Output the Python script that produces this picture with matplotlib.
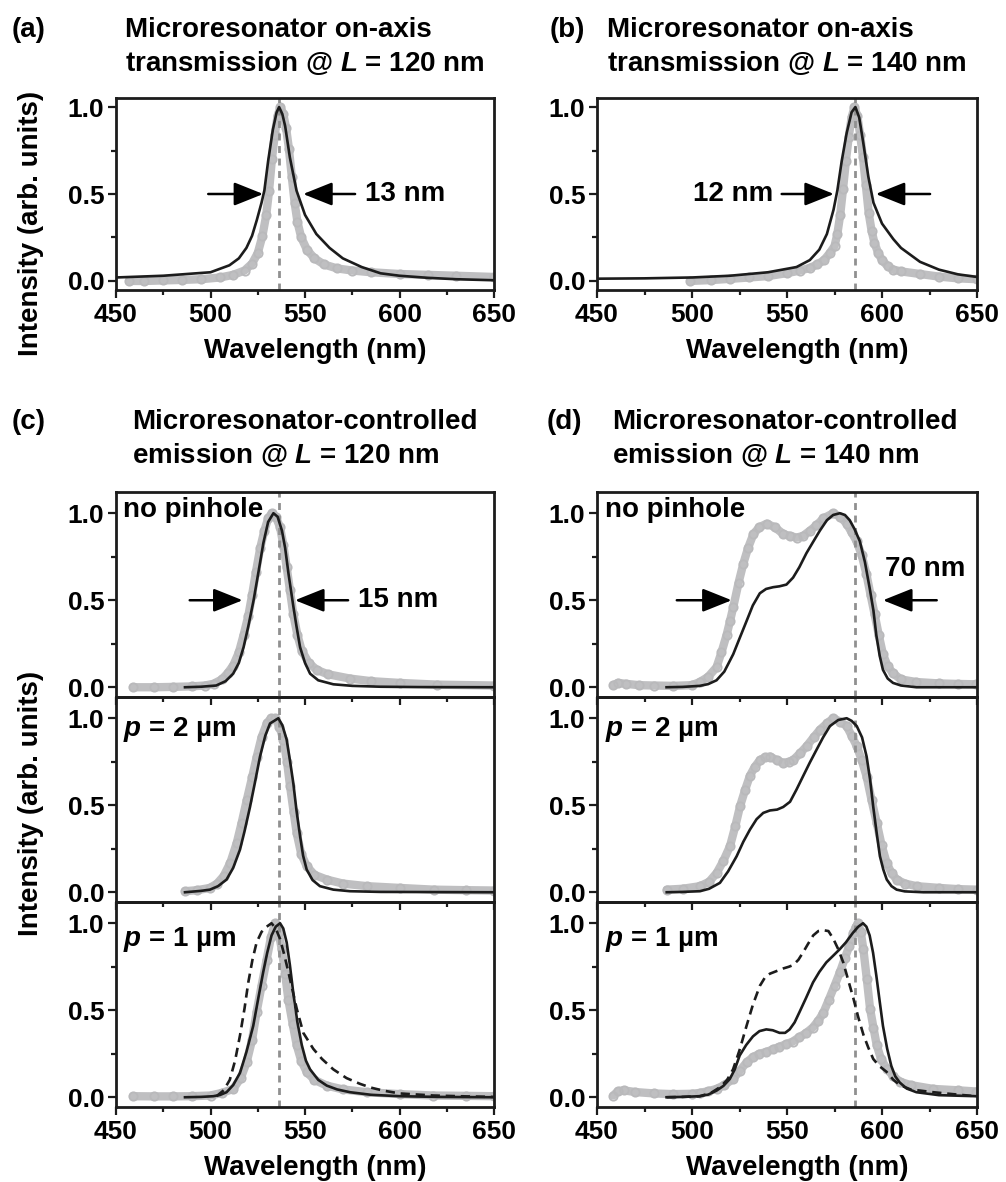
import matplotlib
matplotlib.use('Agg')
import matplotlib.pyplot as plt
from matplotlib.ticker import MultipleLocator

plt.rcParams['font.family'] = ['Liberation Sans', 'DejaVu Sans']
plt.rcParams['font.weight'] = 'bold'
plt.rcParams['mathtext.fontset'] = 'custom'
plt.rcParams['mathtext.it'] = 'Liberation Sans:italic:bold'
plt.rcParams['mathtext.rm'] = 'Liberation Sans:bold'
plt.rcParams['mathtext.bf'] = 'Liberation Sans:bold'

# ---------------- data ----------------
x_ticks = [450, 500, 550, 600, 650]
y_ticks = [0.0, 0.5, 1.0]
center_120 = 536
center_140 = 586

# (a) transmission, L = 120 nm
wl_a_sim = [450, 475, 500, 510, 515, 519, 522, 524.5, 527, 528.5, 530.5, 533, 535, 536.3, 538, 539.5,
            542, 545.5, 550, 556, 563, 570, 580, 590, 600, 615, 630, 650]
int_a_sim = [0.02, 0.03, 0.05, 0.09, 0.13, 0.19, 0.26, 0.35, 0.45, 0.52, 0.69, 0.87, 0.97, 1.0, 0.96, 0.89,
             0.71, 0.52, 0.38, 0.27, 0.19, 0.13, 0.08, 0.044, 0.03, 0.018, 0.01, 0.004]
wl_a_meas = [457, 465, 475, 485, 495, 505, 512, 518, 522, 525, 527.5, 529.5, 531, 532.5, 534, 535.5, 537,
             538.5, 540, 541.5, 543, 544.5, 546, 548, 551, 555, 560, 567, 575, 585, 600, 615, 630, 650]
int_a_meas = [0.0, 0.0, 0.003, 0.006, 0.01, 0.02, 0.035, 0.06, 0.1, 0.16, 0.26, 0.38, 0.52, 0.7, 0.84, 0.95, 1.0,
              0.96, 0.88, 0.76, 0.6, 0.45, 0.34, 0.25, 0.18, 0.13, 0.095, 0.072, 0.06, 0.05, 0.04, 0.035, 0.03, 0.023]

# (b) transmission, L = 140 nm
wl_b_sim = [450, 475, 500, 520, 540, 555, 562, 567, 571, 574.5, 576.5, 578.8, 581.4, 584, 586, 588, 590.2,
            592.8, 595.5, 600, 606, 610, 620, 630, 640, 650]
int_b_sim = [0.013, 0.015, 0.02, 0.03, 0.05, 0.08, 0.12, 0.18, 0.27, 0.41, 0.52, 0.69, 0.85, 0.97, 1.0, 0.94, 0.79,
             0.60, 0.45, 0.33, 0.24, 0.19, 0.11, 0.065, 0.038, 0.023]
wl_b_meas = [499, 510, 520, 530, 540, 550, 557, 562, 566, 569.5, 572.5, 575, 576.5, 578, 579.5, 581, 582.5, 584,
             585.5, 587, 588.5, 590, 591.5, 593, 594.5, 596, 598, 600, 603, 606, 610, 620, 630, 640, 650]
int_b_meas = [0.0, 0.005, 0.012, 0.02, 0.028, 0.045, 0.06, 0.075, 0.095, 0.12, 0.16, 0.2, 0.27, 0.38, 0.53, 0.69,
              0.83, 0.94, 1.0, 0.95, 0.84, 0.71, 0.55, 0.39, 0.29, 0.22, 0.16, 0.12, 0.085, 0.065, 0.055, 0.04,
              0.025, 0.015, 0.01]

# (c) emission, L = 120 nm : no pinhole
wl_c1_sim = [486.5, 495, 503, 508, 512, 515, 517.5, 520, 522.8, 525.5, 528, 530.5, 533.3, 535.5, 537.8, 539.5,
             541.3, 543.9, 545.5, 547.4, 550, 552.7, 557, 565, 575, 590, 610, 650]
int_c1_sim = [0.0, 0.003, 0.01, 0.035, 0.078, 0.14, 0.23, 0.35, 0.50, 0.67, 0.83, 0.95, 1.0, 0.98, 0.9, 0.8,
              0.65, 0.46, 0.35, 0.23, 0.14, 0.078, 0.04, 0.017, 0.008, 0.003, 0.001, 0.0]
wl_c1_meas = [459, 470, 480, 490, 497, 501.6, 506, 509, 512, 515, 517.5, 520, 522, 524, 526.3, 528.5, 530.5,
              532.4, 534.5, 536.8, 538.5, 540.3, 542, 543.8, 546, 548.3, 552, 556.2, 562, 573.8, 585, 600, 620, 650]
int_c1_meas = [0.0, 0.0, 0.002, 0.005, 0.01, 0.02, 0.045, 0.08, 0.125, 0.2, 0.3, 0.41, 0.53, 0.66, 0.8, 0.9, 0.97,
               1.0, 0.98, 0.92, 0.82, 0.69, 0.56, 0.42, 0.3, 0.21, 0.14, 0.10, 0.075, 0.05, 0.035, 0.025, 0.015, 0.01]

# (c) p = 2 um
wl_c2_sim = [486.5, 495, 499.7, 504, 508.5, 512, 515.6, 518, 520.9, 523.5, 526.2, 529, 531.5, 535.9, 538, 540.3,
             542, 543.8, 545.5, 547.4, 549, 550.9, 554, 557.9, 565, 573.8, 590, 650]
int_c2_sim = [0.0, 0.008, 0.015, 0.035, 0.073, 0.14, 0.245, 0.35, 0.49, 0.63, 0.78, 0.9, 0.97, 1.0, 0.96, 0.877,
              0.76, 0.628, 0.47, 0.322, 0.21, 0.13, 0.07, 0.035, 0.015, 0.006, 0.002, 0.0]
wl_c2_meas = [486.5, 493, 499.7, 503.5, 506.9, 510.5, 513.9, 516.5, 519.2, 522, 524.5, 527, 529.8, 532, 534.2,
              536.5, 538.6, 540.5, 542.1, 544, 545.6, 548, 550.9, 555, 561.5, 570, 582.7, 600, 618, 635, 650]
int_c2_meas = [0.006, 0.012, 0.025, 0.05, 0.092, 0.17, 0.284, 0.4, 0.53, 0.66, 0.78, 0.89, 0.97, 1.0, 1.0,
               0.95, 0.877, 0.75, 0.609, 0.46, 0.34, 0.22, 0.15, 0.1, 0.073, 0.05, 0.035, 0.025, 0.015, 0.012, 0.01]

# (c) p = 1 um
wl_c3_sim = [486.5, 495, 501.5, 505, 508.5, 512, 515.6, 519, 522.6, 525.3, 527.9, 530, 532.3, 534.5, 536.8,
             538.5, 540.3, 542, 543.8, 546, 548.3, 550.5, 552.7, 557, 561.5, 567, 573.8, 585, 600.3, 620, 650]
int_c3_sim = [0.0, 0.002, 0.006, 0.013, 0.029, 0.07, 0.14, 0.26, 0.41, 0.57, 0.72, 0.83, 0.93, 0.98, 1.0,
              0.97, 0.89, 0.76, 0.60, 0.43, 0.30, 0.21, 0.16, 0.1, 0.067, 0.045, 0.029, 0.014, 0.006, 0.002, 0.0]
wl_c3_dash = [503.2, 507, 510.2, 513, 515.6, 518, 520, 522.2, 524.4, 527, 529.7, 532.3, 534.5, 536.8, 539,
              541.2, 543.5, 545.6, 549.1, 554.4, 559, 565, 572, 579.1, 585, 591.5, 600, 617.9, 635, 650]
int_c3_dash = [0.006, 0.04, 0.1, 0.21, 0.355, 0.51, 0.66, 0.79, 0.89, 0.95, 0.98, 1.0, 0.97, 0.91, 0.82,
               0.72, 0.61, 0.51, 0.37, 0.278, 0.22, 0.16, 0.11, 0.077, 0.055, 0.038, 0.022, 0.01, 0.005, 0.002]
wl_c3_meas = [459, 470, 480, 490, 500, 506, 512, 516, 519.1, 522, 524.4, 527, 529.7, 532, 534.2, 536, 537.7,
              539.5, 541.2, 543.5, 545.6, 548, 550.9, 555, 561.5, 570, 582.7, 600, 617.9, 635, 650]
int_c3_meas = [0.006, 0.005, 0.005, 0.006, 0.01, 0.025, 0.048, 0.11, 0.2, 0.33, 0.49, 0.64, 0.79, 0.92, 1.0,
               0.95, 0.85, 0.71, 0.56, 0.42, 0.30, 0.21, 0.145, 0.1, 0.067, 0.045, 0.029, 0.018, 0.01, 0.008, 0.006]

# (d) emission, L = 140 nm : no pinhole
wl_d1_sim = [486.6, 495, 504.1, 508.5, 512.9, 517, 521.7, 525, 528.7, 532, 535.7, 539, 542.7, 546, 549.7, 553.2,
             556.5, 560.2, 564, 567.3, 571, 574.3, 577.8, 580.5, 583, 585.5, 588.3, 591, 593.5, 595.5, 597, 598.8,
             600.5, 603, 605.8, 610, 618.1, 650]
int_d1_sim = [0.0, 0.002, 0.008, 0.018, 0.04, 0.09, 0.19, 0.28, 0.38, 0.47, 0.54, 0.565, 0.575, 0.58, 0.59, 0.63,
              0.69, 0.77, 0.84, 0.90, 0.96, 0.99, 1.0, 0.99, 0.96, 0.91, 0.84, 0.72, 0.57, 0.44, 0.30, 0.18,
              0.10, 0.05, 0.025, 0.01, 0.0, 0.0]
wl_d1_meas = [458.6, 461, 465, 472, 480, 490, 500, 504.1, 508.5, 512.9, 515.5, 518.2, 520, 521.7, 524.5, 527,
              529.5, 532.3, 535.5, 539.3, 543.5, 548.1, 551.5, 555.1, 558.5, 562.1, 565.5, 569.1, 574.3, 578,
              581.4, 584, 586.6, 589.3, 591.8, 594, 596.1, 598.3, 600.5, 603, 605.8, 610, 618.1, 630, 640, 649.6]
int_d1_meas = [0.012, 0.025, 0.02, 0.012, 0.01, 0.008, 0.012, 0.03, 0.06, 0.115, 0.2, 0.30, 0.38, 0.46, 0.6, 0.71,
               0.8, 0.88, 0.92, 0.94, 0.92, 0.88, 0.87, 0.86, 0.87, 0.90, 0.93, 0.97, 1.0, 0.98,
               0.94, 0.89, 0.84, 0.76, 0.65, 0.53, 0.42, 0.3, 0.19, 0.12, 0.08, 0.045, 0.03, 0.022, 0.019, 0.017]

# (d) p = 2 um
wl_d2_sim = [486.7, 495, 504.2, 509, 514.7, 519, 523.5, 527, 530.5, 534, 537.5, 541, 544.8, 548, 551.6, 555,
             558.6, 562, 565.6, 569, 572.6, 577, 581.4, 584, 586.7, 589.5, 591.9, 593.7, 595.4, 597.2, 598.9,
             600.7, 602.5, 605, 607.7, 612, 621.8, 650]
int_d2_sim = [0.0, 0.002, 0.006, 0.02, 0.054, 0.12, 0.207, 0.29, 0.36, 0.42, 0.456, 0.47, 0.475, 0.49, 0.52, 0.59,
              0.67, 0.745, 0.82, 0.89, 0.955, 0.99, 1.0, 0.985, 0.955, 0.89, 0.78, 0.65, 0.49, 0.34, 0.207,
              0.13, 0.073, 0.035, 0.015, 0.005, 0.0, 0.0]
wl_d2_meas = [486.7, 495, 504.2, 509, 513, 516.5, 520, 522.8, 525.3, 528, 530.5, 533, 535.8, 538.5, 541, 544.5,
              548.1, 551, 553.3, 557, 560.4, 564, 567.4, 571, 574.4, 578, 581.4, 584, 586.7, 589.3, 591.9, 594.5,
              597.2, 599.8, 602.5, 605, 607.7, 612, 618.2, 630, 640, 649.8]
int_d2_meas = [0.015, 0.02, 0.035, 0.06, 0.111, 0.18, 0.265, 0.38, 0.495, 0.59, 0.67, 0.72, 0.76, 0.775, 0.78, 0.76,
               0.743, 0.75, 0.76, 0.8, 0.84, 0.89, 0.935, 0.97, 1.0, 0.98, 0.955, 0.9, 0.84, 0.76, 0.665, 0.53,
               0.4, 0.27, 0.167, 0.11, 0.073, 0.05, 0.035, 0.025, 0.018, 0.015]

# (d) p = 1 um
wl_d3_sim = [486.6, 495, 504.1, 508.5, 512.9, 516.5, 519.9, 522.5, 525.1, 528.5, 532.1, 535.5, 539.1, 542.5,
             546.1, 549, 551.4, 554, 556.6, 560, 563.7, 567, 570.7, 574, 577.7, 581, 584.7, 587.5, 590, 591.8,
             593.5, 595.3, 597, 598.8, 600.5, 602.7, 604.9, 607, 609.3, 613, 618.1, 630, 649.6]
int_d3_sim = [0.0, 0.002, 0.006, 0.015, 0.038, 0.065, 0.105, 0.16, 0.24, 0.3, 0.35, 0.38, 0.39, 0.385,
              0.37, 0.37, 0.39, 0.43, 0.49, 0.57, 0.66, 0.72, 0.775, 0.81, 0.85, 0.89, 0.945, 0.98, 1.0, 0.98,
              0.93, 0.83, 0.70, 0.55, 0.41, 0.28, 0.18, 0.12, 0.085, 0.05, 0.029, 0.012, 0.006]
wl_d3_dash = [486.6, 495, 504.1, 510, 515, 518.5, 521.6, 525, 528.7, 532, 535.7, 538.5, 541, 544.5, 548, 551,
              553.3, 556, 558.6, 561, 563.8, 566.5, 569.1, 571.8, 574.4, 577, 579.6, 582.3, 584.9, 587.5, 590.2,
              592.8, 595.4, 598.5, 602.4, 606, 609.4, 615, 626.9, 640, 649.6]
int_d3_dash = [0.0, 0.002, 0.006, 0.025, 0.06, 0.1, 0.16, 0.27, 0.41, 0.53, 0.64, 0.69, 0.71, 0.725, 0.74, 0.75,
               0.76, 0.79, 0.835, 0.88, 0.93, 0.955, 0.96, 0.955, 0.91, 0.85, 0.775, 0.67, 0.57, 0.46, 0.36,
               0.285, 0.22, 0.18, 0.146, 0.1, 0.07, 0.045, 0.029, 0.015, 0.006]
wl_d3_meas = [458.6, 461, 464, 470, 480, 490, 500, 504.1, 508.5, 512.9, 517, 521.6, 525, 528.7, 532, 535.5, 539.1,
              542.5, 546, 549.6, 553, 556.5, 560.2, 563.5, 566.5, 569.1, 572, 575, 577.9, 580.5, 582.8, 584.9,
              586.3, 587.5, 588.8, 590.2, 592, 593.7, 595.5, 597.2, 599.5, 602.4, 606, 609.4, 615, 626.9, 640, 649.6]
int_d3_meas = [0.01, 0.035, 0.04, 0.03, 0.022, 0.018, 0.02, 0.025, 0.035, 0.048, 0.07, 0.105, 0.15, 0.2, 0.23,
               0.25, 0.26, 0.275, 0.29, 0.305, 0.32, 0.345, 0.37, 0.4, 0.44, 0.485, 0.56, 0.64, 0.72, 0.8, 0.87,
               0.945, 0.98, 1.0, 0.95, 0.85, 0.68, 0.51, 0.4, 0.3, 0.22, 0.165, 0.12, 0.09, 0.07, 0.048, 0.04, 0.033]

# ---------------- figure ----------------
W, H = 1006, 1182
fig = plt.figure(figsize=(W / 100, H / 100), dpi=100)

GRAY_BAND = '#bfbfc1'
GRAY_MK = '#b9b9bb'
BLACK = '#1c1c1c'
DASHV = '#909090'
FS = 20


def px_axes(l, t, r, b):
    return fig.add_axes([l / W, 1 - b / H, (r - l) / W, (b - t) / H])


def style(ax, ylim, xlabels=True):
    ax.set_xlim(450, 650)
    ax.set_ylim(*ylim)
    ax.set_xticks(x_ticks)
    ax.set_yticks(y_ticks)
    ax.set_yticklabels(['%.1f' % v for v in y_ticks])
    ax.xaxis.set_minor_locator(MultipleLocator(25))
    ax.yaxis.set_minor_locator(MultipleLocator(0.25))
    ax.tick_params(which='both', direction='out', width=1.6, color='#1c1c1c')
    ax.tick_params(which='major', length=5.5)
    ax.tick_params(which='minor', length=3.5)
    ax.tick_params(axis='x', labelsize=19, pad=4)
    ax.tick_params(axis='y', labelsize=19, pad=3)
    for s in ax.spines.values():
        s.set_linewidth(2)
        s.set_color('#1c1c1c')
    if not xlabels:
        ax.tick_params(axis='x', which='both', labelbottom=False)


def draw(ax, wl_m, in_m, wl_s, in_s, center, wl_d=None, in_d=None):
    ax.axvline(center, color=DASHV, lw=2, ls=(0, (2.5, 2)), zorder=2)
    ax.plot(wl_m, in_m, color=GRAY_BAND, lw=6, solid_capstyle='round', solid_joinstyle='round', zorder=1)
    ax.plot(wl_m, in_m, 'o', mfc='none', mec=GRAY_MK, ms=6, mew=1.3, zorder=1.5)
    if wl_d is not None:
        ax.plot(wl_d, in_d, color=BLACK, lw=1.9, ls=(0, (3.5, 2.2)), zorder=3)
    ax.plot(wl_s, in_s, color=BLACK, lw=1.9, zorder=3)


def arrow(ax, x_from, x_to, y=0.5):
    ax.annotate('', xy=(x_to, y), xytext=(x_from, y),
                arrowprops=dict(arrowstyle='-|>,head_length=0.9,head_width=0.36', mutation_scale=20,
                                lw=1.8, color='black', shrinkA=0, shrinkB=0), zorder=5)


def ftext(x, y, s, **kw):
    fig.text(x / W, 1 - y / H, s, fontsize=kw.pop('fontsize', FS), fontweight='bold', **kw)


ylim_top = (-0.052, 1.052)
ylim_stack = (-0.056, 1.122)

# (a)
ax_a = px_axes(116, 98, 494, 290)
style(ax_a, ylim_top)
draw(ax_a, wl_a_meas, int_a_meas, wl_a_sim, int_a_sim, center_120)
arrow(ax_a, 498.8, 527.9)
arrow(ax_a, 576.5, 549.0)
ax_a.text(581.7, 0.5, '13 nm', fontsize=FS, fontweight='bold', va='center', ha='left')

# (b)
ax_b = px_axes(597, 98, 977, 290)
style(ax_b, ylim_top)
draw(ax_b, wl_b_meas, int_b_meas, wl_b_sim, int_b_sim, center_140)
arrow(ax_b, 547.2, 574.7)
arrow(ax_b, 625.3, 596.7)
ax_b.text(543.0, 0.5, '12 nm', fontsize=FS, fontweight='bold', va='center', ha='right')

# (c) and (d) stacked panels
rows = [(492, 697), (697, 902), (902, 1107)]
c_data = [(wl_c1_meas, int_c1_meas, wl_c1_sim, int_c1_sim, None, None),
          (wl_c2_meas, int_c2_meas, wl_c2_sim, int_c2_sim, None, None),
          (wl_c3_meas, int_c3_meas, wl_c3_sim, int_c3_sim, wl_c3_dash, int_c3_dash)]
d_data = [(wl_d1_meas, int_d1_meas, wl_d1_sim, int_d1_sim, None, None),
          (wl_d2_meas, int_d2_meas, wl_d2_sim, int_d2_sim, None, None),
          (wl_d3_meas, int_d3_meas, wl_d3_sim, int_d3_sim, wl_d3_dash, int_d3_dash)]
row_labels = ['no pinhole', '$p$ = 2 µm', '$p$ = 1 µm']
row_label_y = [0.98, 0.90, 0.87]

c_axes, d_axes = [], []
for i, (t, b) in enumerate(rows):
    axc = px_axes(116, t, 494, b)
    axd = px_axes(597, t, 977, b)
    for ax, dat, center, xl in ((axc, c_data[i], center_120, 453.7), (axd, d_data[i], center_140, 454.2)):
        style(ax, ylim_stack, xlabels=(i == 2))
        draw(ax, dat[0], dat[1], dat[2], dat[3], center, dat[4], dat[5])
        ax.text(xl, row_label_y[i], row_labels[i], fontsize=FS, fontweight='bold', ha='left', va='baseline',
                zorder=6)
    c_axes.append(axc)
    d_axes.append(axd)

arrow(c_axes[0], 489.0, 517.0)
arrow(c_axes[0], 572.8, 544.7)
c_axes[0].text(578.0, 0.5, '15 nm', fontsize=FS, fontweight='bold', va='center', ha='left')
arrow(d_axes[0], 492.0, 520.9)
arrow(d_axes[0], 628.8, 600.5)
d_axes[0].text(601.6, 0.68, '70 nm', fontsize=FS, fontweight='bold', va='center', ha='left')

# upper panels on top so their outward ticks stay visible over the panel below
for k, ax in enumerate(c_axes + d_axes):
    ax.set_zorder(10 - (k % 3))
    ax.patch.set_alpha(0)

# headings
ftext(12, 37, '(a)')
ftext(125, 37, 'Microresonator on-axis')
ftext(125, 71, 'transmission @ $L$ = 120 nm')
ftext(550, 37, '(b)')
ftext(607, 37, 'Microresonator on-axis')
ftext(607, 71, 'transmission @ $L$ = 140 nm')
ftext(12, 429, '(c)')
ftext(132, 429, 'Microresonator-controlled')
ftext(132, 463, 'emission @ $L$ = 120 nm')
ftext(547, 429, '(d)')
ftext(612, 429, 'Microresonator-controlled')
ftext(612, 463, 'emission @ $L$ = 140 nm')

# axis labels
ftext(315, 358, 'Wavelength (nm)', ha='center', va='baseline')
ftext(797, 358, 'Wavelength (nm)', ha='center', va='baseline')
ftext(315, 1175, 'Wavelength (nm)', ha='center', va='baseline')
ftext(797, 1175, 'Wavelength (nm)', ha='center', va='baseline')
ftext(31, 223, 'Intensity (arb. units)', rotation=90, ha='center', va='center')
ftext(31, 803, 'Intensity (arb. units)', rotation=90, ha='center', va='center')

fig.savefig('out.png', dpi=100)
